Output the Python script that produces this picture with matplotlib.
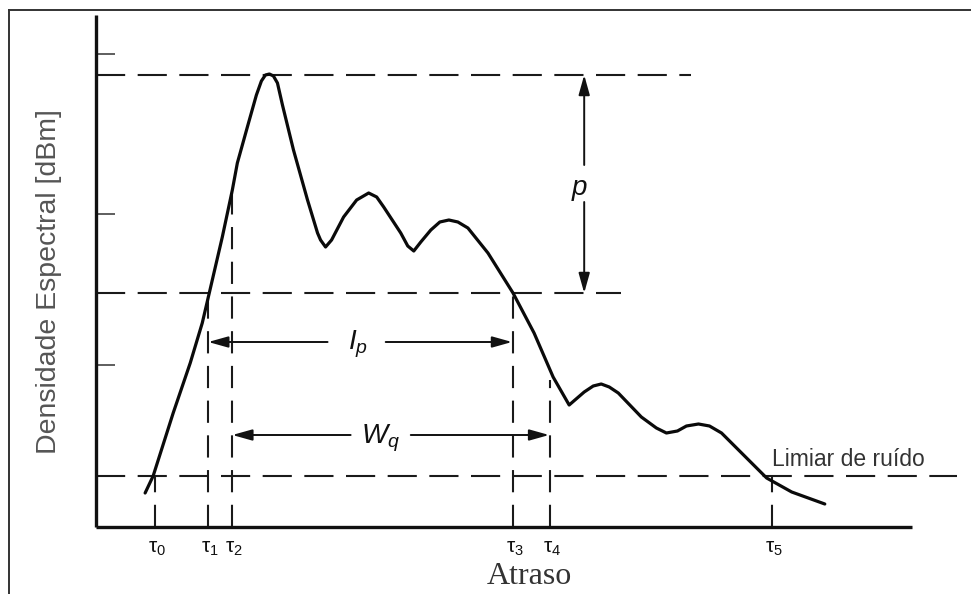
import matplotlib
matplotlib.use("Agg")
import matplotlib.pyplot as plt
from matplotlib.lines import Line2D

plt.rcParams['lines.scale_dashes'] = False
plt.rcParams['mathtext.fontset'] = 'custom'
plt.rcParams['mathtext.rm'] = 'Liberation Sans'
plt.rcParams['mathtext.it'] = 'Liberation Sans:italic'

# ---- data (delay in arbitrary units, level in dB above axis floor) ----
curve_x = [4.9, 5.7, 7.7, 9.4, 10.6, 11.3, 12.6, 13.6, 14.1, 15.1, 16.0, 16.5, 16.9, 17.3,
           17.7, 18.1, 18.6, 19.7, 21.1, 22.1, 22.4, 22.9, 23.5, 24.7, 26.0, 27.2, 28.0,
           28.7, 30.4, 31.1, 31.7, 32.4, 33.4, 34.3, 35.2, 36.1, 37.1, 39.1, 41.6,
           43.7, 45.6, 47.2, 48.7, 49.6, 50.4, 51.2, 52.1, 54.4, 55.9, 56.9, 58.0,
           58.9, 60.1, 61.2, 62.4, 64.4, 66.9, 69.4, 72.7]
curve_y = [3.4, 5.1, 11.4, 16.4, 20.4, 23.4, 29.0, 33.7, 36.4, 40.0, 43.2, 44.6, 45.2, 45.3,
           45.1, 44.4, 42.2, 37.7, 32.7, 29.4, 28.7, 28.0, 28.7, 31.0, 32.7, 33.4, 33.0,
           32.0, 29.4, 28.1, 27.6, 28.5, 29.7, 30.5, 30.7, 30.5, 29.9, 27.4, 23.4,
           19.4, 15.0, 12.2, 13.5, 14.1, 14.3, 14.0, 13.4, 11.0, 9.9, 9.4, 9.6,
           10.1, 10.3, 10.1, 9.4, 7.4, 4.9, 3.5, 2.3]

peak_level = 45.2
p_level = 23.4
noise_level = 5.1

tau_labels = ['0', '1', '2', '3', '4', '5']
tau_x = [5.9, 11.2, 13.6, 41.6, 45.3, 67.4]
tau_top = [5.1, 23.4, 34.1, 23.4, 14.7, 5.1]

ip_y = 18.5
wq_y = 9.2
p_x = 48.7
ytick_vals = [47.3, 31.3, 16.2]

xlim = (0, 81.4)
ylim = (0, 51.2)

W, H = 971, 594
fig = plt.figure(figsize=(W / 100, H / 100), dpi=100)
fig.patch.set_facecolor('white')

# outer frame
fig.add_artist(Line2D([9 / W, 1.0], [1 - 10 / H, 1 - 10 / H], transform=fig.transFigure,
                      color='#333333', lw=1.4))
fig.add_artist(Line2D([9 / W, 9 / W], [1 - 10 / H, 0.0], transform=fig.transFigure,
                      color='#333333', lw=1.4))

ax = fig.add_axes([96 / W, (H - 527) / H, 816 / W, 512 / H])
ax.set_xlim(*xlim)
ax.set_ylim(*ylim)
ax.set_facecolor('none')
for s in ['top', 'right']:
    ax.spines[s].set_visible(False)
for s in ['left', 'bottom']:
    ax.spines[s].set_linewidth(2.4)
    ax.spines[s].set_color('#111111')
    ax.spines[s].set_capstyle('butt')
ax.set_xticks([])
ax.set_yticks(ytick_vals)
ax.set_yticklabels([])
ax.tick_params(axis='y', direction='in', length=14, width=1.1, color='#333333')

dash_h = (0, (21, 9))
dash_v = (0, (16, 9))
kw = dict(color='#1a1a1a', lw=1.5, clip_on=False)

# horizontal dashed lines
ax.plot([0, 59.4], [peak_level] * 2, linestyle=dash_h, **kw)
ax.plot([0, 52.4], [p_level] * 2, linestyle=dash_h, **kw)
ax.plot([0, 85.9], [noise_level] * 2, linestyle=dash_h, **kw)

# vertical dashed lines
for x, top in zip(tau_x, tau_top):
    ax.plot([x, x], [0, top], linestyle=dash_v, **kw)

# curve
ax.plot(curve_x, curve_y, color='#0a0a0a', lw=2.3, solid_joinstyle='round',
        solid_capstyle='round', clip_on=False, zorder=5)

# arrows
ap = dict(arrowstyle='-|>,head_length=1.0,head_width=0.28', color='#111111', lw=1.4,
          shrinkA=0, shrinkB=0, mutation_scale=12)

def arrow(x0, y0, x1, y1):
    ax.annotate('', xy=(x1, y1), xytext=(x0, y0), arrowprops=ap, annotation_clip=False)

arrow(23.1, ip_y, tau_x[1], ip_y)
arrow(28.9, ip_y, tau_x[3] - 0.1, ip_y)
arrow(25.4, wq_y, tau_x[2], wq_y)
arrow(31.4, wq_y, tau_x[4] - 0.1, wq_y)
arrow(p_x, 36.2, p_x, peak_level)
arrow(p_x, 32.5, p_x, p_level)

lab = dict(fontsize=20, color='#111111', ha='center', va='center')
ax.text(26.1, ip_y - 0.2, r'$I_p$', **lab)
ax.text(28.4, wq_y - 0.3, r'$W_q$', **lab)
ax.text(48.2, 33.8, r'$p$', **lab)

# tau labels
for x, s in zip(tau_x, tau_labels):
    ax.annotate('τ$_{%s}$' % s, xy=(x, 0), xytext=(-5, -9), textcoords='offset points',
                ha='left', va='top', fontsize=15, family='Liberation Sans',
                color='#111111', annotation_clip=False)

ax.text(67.4, 6.8, 'Limiar de ruído', fontsize=16.5, family='Liberation Sans',
        color='#333333', ha='left', va='center')

fig.text(49 / W, 1 - 282 / H, 'Densidade Espectral [dBm]', rotation=90,
         fontsize=20.5, family='Liberation Sans', color='#555555', ha='center', va='center')
fig.text(529 / W, 1 - 577 / H, 'Atraso', fontsize=23, family='Liberation Serif',
         color='#333333', ha='center', va='center')

fig.savefig('out.png', dpi=100)
